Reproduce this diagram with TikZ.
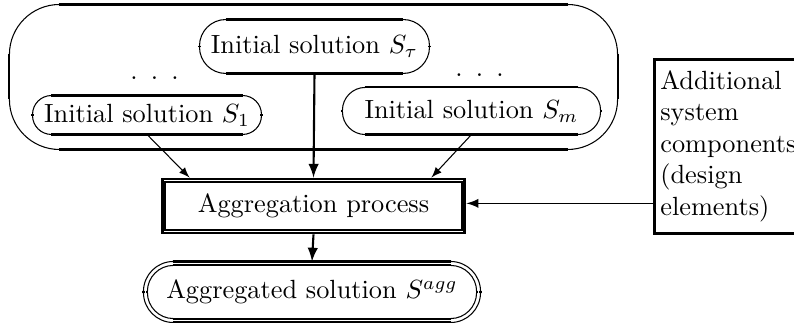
\documentclass[tikz,border=0pt]{standalone}
\usetikzlibrary{arrows}
\usetikzlibrary{shapes}

% oval frame of a node: thin rounded corners, thick straight sides
\newcommand{\ovalframe}[3]{%
  \draw[thin, rounded corners = #2] ([shift={(#3,#3)}]#1.south west) rectangle ([shift={(-#3,-#3)}]#1.north east);
  \draw[thick]
    ([shift={(#2+#3,-#3)}]#1.north west) -- ([shift={(-#2-#3,-#3)}]#1.north east)
    ([shift={(#2+#3,#3)}]#1.south west) -- ([shift={(-#2-#3,#3)}]#1.south east)
    ([shift={(#3,-#2-#3)}]#1.north west) -- ([shift={(#3,#2+#3)}]#1.south west)
    ([shift={(-#3,-#2-#3)}]#1.north east) -- ([shift={(-#3,#2+#3)}]#1.south east);
}

\begin{document}
\begin{tikzpicture}[x = 0.38pt, y = 0.38pt]
\tikzstyle{ovalStyle} = [shape = rectangle, inner sep = 0pt]
\tikzstyle{boxStyle} = [shape = rectangle, inner sep = 0pt, draw, line width = 1.1pt]
\tikzstyle{dotsStyle} = [inner sep = 0pt]
\tikzstyle{thinArrow} = [-latex, thin]
\tikzstyle{thickArrow} = [-latex, thick]
\useasboundingbox (0,0) rectangle (794,323);
\node[ovalStyle, minimum width = 230.7pt, minimum height = 54.7pt] (all) at (313.5,246) {};
\node[ovalStyle, minimum width = 87pt, minimum height = 20.1pt] (tau) at (314.5,276.5) {Initial solution $S_{\tau}$};
\node[ovalStyle, minimum width = 86.6pt, minimum height = 14.4pt] (s1) at (147,208) {Initial solution $S_1$};
\node[ovalStyle, minimum width = 97.7pt, minimum height = 17.5pt] (sm) at (471.5,212) {Initial solution $S_m$};
\node[dotsStyle] (dotsl) at (154.5,245) {.\enspace.\enspace.};
\node[dotsStyle] (dotsr) at (479.5,248) {.\enspace.\enspace.};
\node[boxStyle, minimum width = 115.1pt, minimum height = 20.5pt] (agg) at (313.5,117) {Aggregation process};
\node[ovalStyle, minimum width = 127.7pt, minimum height = 22.8pt] (aggsol) at (312,31) {Aggregated solution $S^{agg}$};
\node[shape = rectangle, draw, line width = 1pt, anchor = north west, minimum height = 66.1pt,
      text width = 56pt, inner xsep = 2.3pt, align = left] (add) at (653,265)
      {Additional\\ system\\ components\\ (design\\ elements)};
\draw[line width = 0.6pt] ([shift={(1.6pt,1.6pt)}]agg.south west) rectangle ([shift={(-1.6pt,-1.6pt)}]agg.north east);
\ovalframe{all}{19pt}{0pt}
\ovalframe{tau}{10pt}{0pt}
\ovalframe{s1}{7.2pt}{0pt}
\ovalframe{sm}{8.7pt}{0pt}
\ovalframe{aggsol}{11.4pt}{0pt}
\ovalframe{aggsol}{9.9pt}{1.5pt}
\draw[thickArrow] (tau.south) -- (agg.north);
\draw[thinArrow] (s1.south) -- ([xshift = 11pt]agg.north west);
\draw[thinArrow] (sm.south) -- ([xshift = -13.3pt]agg.north east);
\draw[thickArrow] (agg.south) -- (aggsol.north);
\draw[-latex, semithick] ([yshift = 1pt]add.west |- agg.east) -- ([yshift = 1pt]agg.east);
\end{tikzpicture}
\end{document}
